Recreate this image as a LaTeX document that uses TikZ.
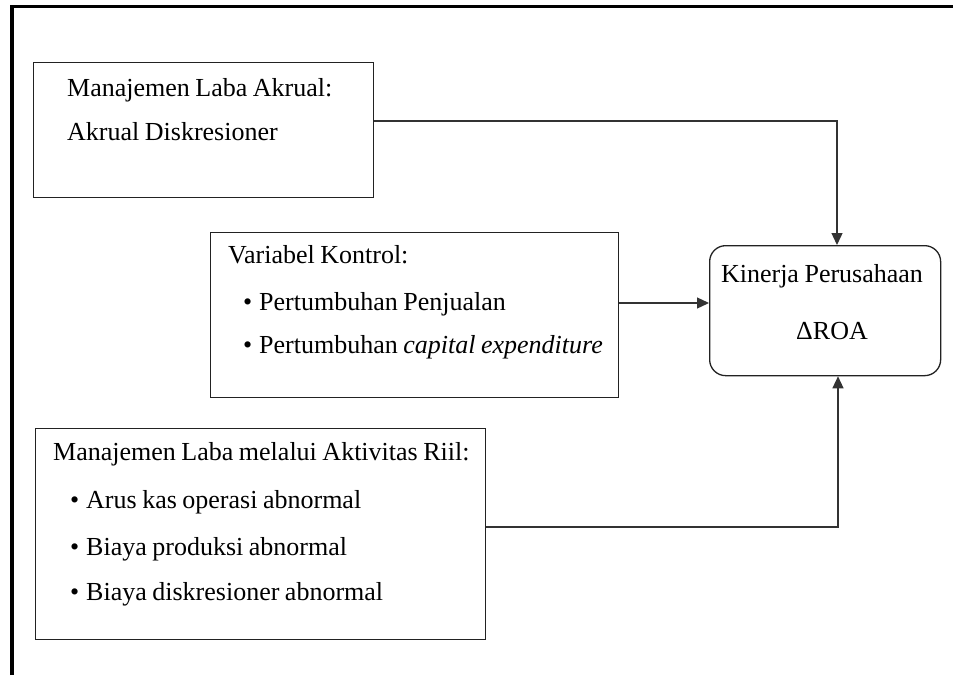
\documentclass[tikz,border=0pt]{standalone}
\usepackage{fontspec}
\setmainfont{Liberation Serif}[WordSpace=0.85]
\usetikzlibrary{arrows.meta}
\definecolor{boxline}{HTML}{222222}
\definecolor{arrline}{HTML}{333333}
\tikzset{
  box/.style={draw=boxline, line width=1.3pt, inner sep=0pt, anchor=north west},
  rbox/.style={box, rounded corners=16pt},
  txt/.style={anchor=base west, inner sep=0pt, font=\fontsize{26}{31}\selectfont, text=black},
  ctxt/.style={anchor=base, inner sep=0pt, font=\fontsize{26}{31}\selectfont, text=black},
  arr/.style={draw=arrline, line width=1.3pt, -{Triangle[length=12pt,width=11pt]}},
  frame/.style={draw=black, line width=3.5pt}
}
\begin{document}
\begin{tikzpicture}[x=1pt,y=-1pt]
\useasboundingbox (0,0) rectangle (953,675);
% outer frame lines
\coordinate (ftl) at (12,6.5);
\coordinate (ftr) at (953,6.5);
\coordinate (fbl) at (12,675);
\draw[frame] (fbl) -- (ftl) -- (ftr);

% boxes
\node[box, minimum width=340pt, minimum height=135pt] (b1) at (33,62) {};
\node[box, minimum width=408pt, minimum height=165pt] (b2) at (210,232) {};
\node[box, minimum width=450pt, minimum height=211pt] (b3) at (35,428) {};
\node[rbox, minimum width=231pt, minimum height=130pt] (kin) at (709,245) {};

% box 1 text
\node[txt] (t11) at (67,96) {Manajemen Laba Akrual:};
\node[txt] (t12) at (67,140) {Akrual Diskresioner};

% box 2 text
\node[txt] (t21) at (228,263) {Variabel Kontrol:};
\node[txt] (t22b) at (243,310) {\textbullet};
\node[txt] (t22) at (259,310) {Pertumbuhan Penjualan};
\node[txt] (t23b) at (243,353) {\textbullet};
\node[txt] (t23) at (259,353) {Pertumbuhan \textit{capital expenditure}};

% box 3 text
\node[txt] (t31) at (53,460) {Manajemen Laba melalui Aktivitas Riil:};
\node[txt] (t32b) at (70,508) {\textbullet};
\node[txt] (t32) at (86,508) {Arus kas operasi abnormal};
\node[txt] (t33b) at (70,555) {\textbullet};
\node[txt] (t33) at (86,555) {Biaya produksi abnormal};
\node[txt] (t34b) at (70,600) {\textbullet};
\node[txt] (t34) at (86,600) {Biaya diskresioner abnormal};

% kinerja text
\node[ctxt] (k1) at (822,282) {Kinerja Perusahaan};
\node[ctxt] (k2) at (832,339) {ΔROA};

% connectors
\coordinate (c1) at (837,121);
\coordinate (c2) at (0,303);
\coordinate (c3) at (838,527);
\draw[arr] (b1.east |- c1) -- (c1) -- (kin.north -| c1);
\draw[arr] (b2.east |- c2) -- (kin.west |- c2);
\draw[arr] (b3.east |- c3) -- (c3) -- (kin.south -| c3);
\end{tikzpicture}
\end{document}
